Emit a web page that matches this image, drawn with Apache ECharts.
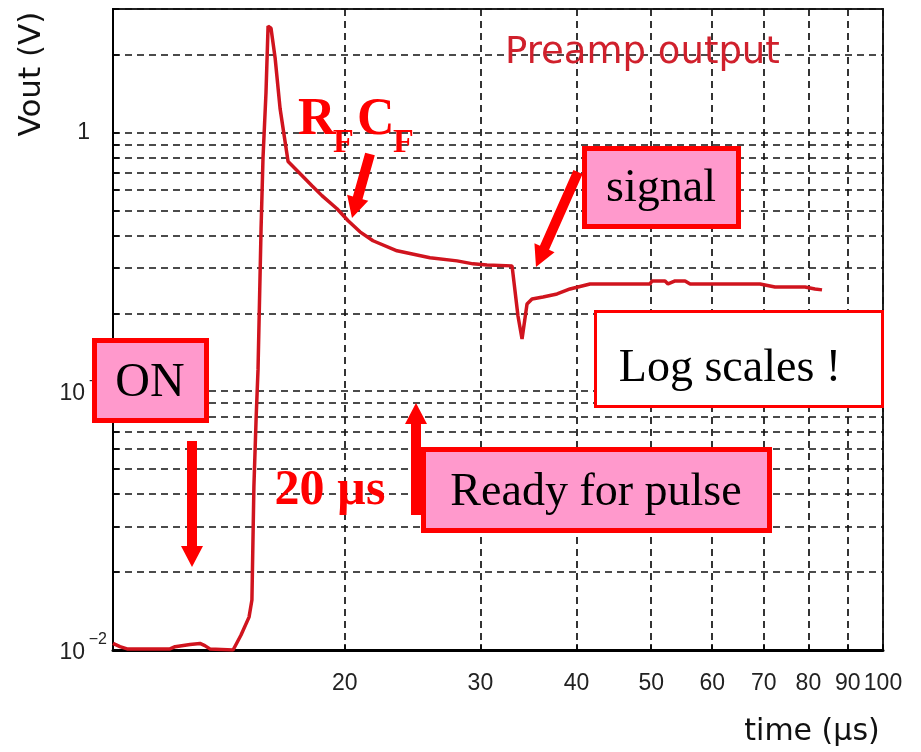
<!DOCTYPE html>
<html><head><meta charset="utf-8">
<script src="https://cdn.jsdelivr.net/npm/echarts@6/dist/echarts.min.js"></script>
<style>html,body{margin:0;padding:0;background:#fff}#c{width:921px;height:752px}</style>
</head><body><div id="c"></div>
<script>
// ---- data (time in µs, Vout in V) ----
const timeUs = [10.0, 10.21, 10.43, 11.86, 12.04, 12.59, 12.97, 13.16, 13.36, 14.32, 14.66, 15.02, 15.15, 15.24, 15.34, 15.43, 15.57, 15.66, 15.80, 15.90, 16.04, 16.24, 16.48, 16.88, 17.49, 18.13, 18.68, 19.54, 20.20, 20.93, 21.76, 23.38, 25.80, 27.98, 29.35, 30.60, 32.98, 33.57, 33.98, 34.49, 35.01, 36.18, 37.73, 39.22, 41.64, 49.82, 50.12, 52.11, 52.58, 53.70, 55.33, 56.17, 69.23, 72.40, 79.19, 81.60, 83.33];
const vout = [0.0106, 0.0103, 0.0101, 0.0101, 0.0103, 0.0105, 0.0106, 0.0104, 0.0101, 0.0100, 0.0114, 0.0134, 0.0156, 0.0428, 0.0779, 0.1217, 0.4245, 0.793, 1.417, 2.576, 2.53, 1.936, 1.239, 0.772, 0.694, 0.623, 0.570, 0.507, 0.456, 0.413, 0.3815, 0.3488, 0.3278, 0.3190, 0.3106, 0.3078, 0.3051, 0.1953, 0.1591, 0.2174, 0.2274, 0.2314, 0.2377, 0.2485, 0.2598, 0.2598, 0.2669, 0.2669, 0.2598, 0.2669, 0.2669, 0.2598, 0.2598, 0.2530, 0.2530, 0.2485, 0.2464];
const xTickValues = [10, 20, 30, 40, 50, 60, 70, 80, 90, 100];
const xLabelValues = [20, 30, 40, 50, 60, 70, 80, 90, 100];
const yTickValues = [0.01, 0.02, 0.03, 0.04, 0.05, 0.06, 0.07, 0.08, 0.09, 0.1, 0.2, 0.3, 0.4, 0.5, 0.6, 0.7, 0.8, 0.9, 1, 2, 3];
const yLabelValues = [0.01, 0.1, 1];

const seriesData = timeUs.map((t, i) => [t, vout[i]]);

function yLabelFormatter(v) {
  if (Math.abs(v - 1) < 1e-9) return '{q|1}';
  if (Math.abs(v - 0.1) < 1e-9) return '{s|\u22121}\n{p|10}';
  if (Math.abs(v - 0.01) < 1e-9) return '{s|\u22122}\n{p|10}';
  return '';
}

function arrowPoints(x1, y1, x2, y2, sw, hw, hl) {
  const dx = x2 - x1, dy = y2 - y1, len = Math.hypot(dx, dy);
  const ux = dx / len, uy = dy / len, nx = -uy, ny = ux;
  const bx = x2 - ux * hl, by = y2 - uy * hl;
  return [
    [x1 + nx * sw / 2, y1 + ny * sw / 2],
    [bx + nx * sw / 2, by + ny * sw / 2],
    [bx + nx * hw / 2, by + ny * hw / 2],
    [x2, y2],
    [bx - nx * hw / 2, by - ny * hw / 2],
    [bx - nx * sw / 2, by - ny * sw / 2],
    [x1 - nx * sw / 2, y1 - ny * sw / 2]
  ];
}
function arrow(x1, y1, x2, y2) {
  return { type: 'polygon', z: 100, shape: { points: arrowPoints(x1, y1, x2, y2, 10, 22, 21) }, style: { fill: '#ff0000' } };
}
function box(x, y, w, h, fill, lw) {
  return { type: 'rect', z: 100, shape: { x: x, y: y, width: w, height: h }, style: { fill: fill, stroke: '#ff0000', lineWidth: lw } };
}
function label(x, y, text, size, color, bold, align) {
  return { type: 'text', z: 101, x: x, y: y, style: { text: text, fontFamily: 'Liberation Serif', fontSize: size, fontWeight: bold ? 'bold' : 'normal', fill: color, align: align || 'center', verticalAlign: 'middle' } };
}

const chart = echarts.init(document.getElementById('c'), null, { renderer: 'canvas' });
const dashed = { color: '#111', width: 1.7, type: [7, 5] };
chart.setOption({
  animation: false,
  backgroundColor: '#fff',
  title: {
    text: 'Preamp output', left: 500, top: 30,
    textStyle: { fontFamily: 'DejaVu Sans', fontSize: 37, fontWeight: 'normal', color: '#d0202c' }
  },
  grid: { left: 113, right: 38, top: 9, bottom: 102, show: true, borderColor: '#222', borderWidth: 2 },
  xAxis: {
    type: 'log', logBase: 10, min: 10, max: 100,
    axisLine: { show: true, lineStyle: { color: '#000', width: 3 } },
    axisTick: { show: true, inside: true, length: 6, customValues: xTickValues, lineStyle: { color: '#000', width: 1.5 } },
    axisLabel: { customValues: xLabelValues, margin: 22, fontFamily: 'Liberation Sans', fontSize: 23, color: '#222' },
    splitLine: { show: true, lineStyle: dashed },
    minorTick: { show: false }, minorSplitLine: { show: false }
  },
  yAxis: {
    type: 'log', logBase: 10, min: 0.01, max: 3,
    axisLine: { show: true, lineStyle: { color: '#000', width: 2 } },
    axisTick: { show: true, inside: true, length: 6, customValues: yTickValues, lineStyle: { color: '#000', width: 1.5 } },
    axisLabel: {
      customValues: yLabelValues, margin: 6, formatter: yLabelFormatter,
      rich: {
        p: { fontFamily: 'Liberation Sans', fontSize: 23, color: '#222', lineHeight: 20, padding: [0, 22, 9, 0] },
        s: { fontFamily: 'Liberation Sans', fontSize: 16, color: '#222', lineHeight: 14 },
        q: { fontFamily: 'Liberation Sans', fontSize: 23, color: '#222', lineHeight: 22, padding: [0, 17, 0, 0] }
      }
    },
    splitLine: { show: true, lineStyle: dashed },
    minorTick: { show: false }, minorSplitLine: { show: false }
  },
  series: [{
    type: 'line', data: seriesData, showSymbol: false, symbol: 'none',
    lineStyle: { color: '#d0141e', width: 3.5 }, z: 5
  }],
  graphic: [
    { type: 'text', z: 50, x: 32, y: 74, rotation: Math.PI / 2,
      style: { text: 'Vout (V)', fontFamily: 'DejaVu Sans', fontSize: 31, fill: '#111', align: 'center', verticalAlign: 'middle' } },
    { type: 'text', z: 50, x: 812, y: 732,
      style: { text: 'time (\u00b5s)', fontFamily: 'DejaVu Sans', fontSize: 30, fill: '#111', align: 'center', verticalAlign: 'middle' } },
    // R_F C_F
    label(298, 121, 'R', 52, '#ff0000', true, 'left'),
    label(333, 143, 'F', 34, '#ff0000', true, 'left'),
    label(357, 121, 'C', 52, '#ff0000', true, 'left'),
    label(393, 143, 'F', 34, '#ff0000', true, 'left'),
    arrow(370, 154, 352, 218),
    // signal
    box(584.5, 148.5, 154, 78, '#ff99cc', 5),
    label(661, 189, 'signal', 46, '#000'),
    arrow(578, 172, 536, 267),
    // Log scales
    box(595.5, 311.5, 287, 95, '#ffffff', 3),
    label(730, 369, 'Log scales !', 46, '#000'),
    // ON
    box(94.5, 340.5, 112, 80, '#ff99cc', 5),
    label(150, 383, 'ON', 48, '#000'),
    arrow(192, 441, 192, 567),
    // 20 µs
    label(330, 491, '20 \u00b5s', 50, '#ff0000', true),
    arrow(416, 515, 416, 403),
    // Ready for pulse
    box(423.5, 449.5, 346, 81, '#ff99cc', 5),
    label(596, 493, 'Ready for pulse', 46, '#000')
  ]
});
</script>
</body></html>
